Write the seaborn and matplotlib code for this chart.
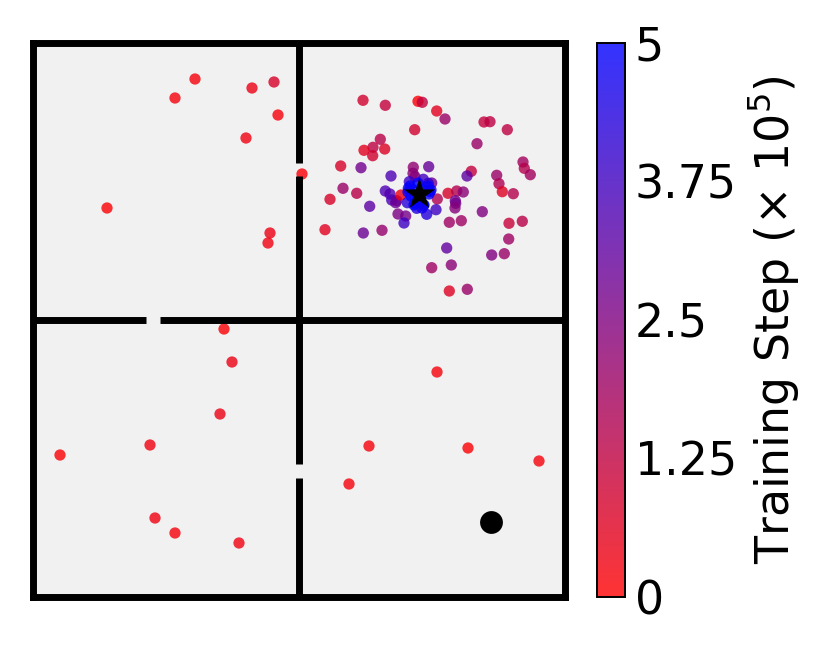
import numpy as np
import pandas as pd
import seaborn as sns
import matplotlib.pyplot as plt
from matplotlib.colors import LinearSegmentedColormap, Normalize
from matplotlib.cm import ScalarMappable

# positions, in picture pixels
room_x = [195, 175, 252, 274, 278, 246, 107, 270, 268,
          224, 232, 220, 150, 60, 155, 175, 239,
          437, 369, 468, 539, 349]
room_y = [79, 98, 88, 82, 115, 138, 208, 233, 243,
          329, 362, 414, 445, 455, 518, 533, 543,
          372, 446, 448, 461, 484]
room_step = [0.2, 0.2, 0.4, 0.8, 0.2, 0.3, 0.1, 0.4, 0.3,
             0.1, 0.4, 0.4, 0.3, 0.1, 0.3, 0.2, 0.3,
             0.2, 0.2, 0.1, 0.2, 0.2]

far_x = [363, 385.3, 418, 422.3, 436.7, 445, 414.7, 484, 490, 507.3, 477,
         380.3, 373, 364, 384.7, 372.7, 340.7, 361, 413.3, 428.7, 413, 415,
         391, 471.3, 467, 496.7, 499, 502.3, 513.3, 523, 524.3, 530.3, 343,
         356.7, 330, 302, 325, 369.7, 363.3, 382, 448, 456.7, 463.3, 455.3,
         455.7, 455, 437.3, 482.3, 449.3, 461.3, 509, 522.3, 508.7, 504.3,
         491.7, 446.7, 451.3, 431.7, 449.3, 467.3]
far_y = [100.3, 105.3, 101.3, 102.3, 111, 119, 129.7, 122, 121.7, 129.7, 143.7,
         139.3, 147.3, 150.3, 149, 155.7, 166, 167.7, 167.3, 166.7, 173.3, 176.7,
         176, 171.3, 176, 175.3, 183.7, 191.7, 193.7, 162, 168.3, 174.7, 188.3,
         193.3, 199.3, 174, 229.7, 206.3, 233, 230.3, 193.3, 191, 192, 200.7,
         203.3, 208, 199, 211.7, 222.3, 220.7, 223.3, 221.3, 239, 253.7,
         255, 248, 265, 267.7, 291, 289.3]
far_step = [0.9, 1.2, 0.1, 1.2, 0.6, 2.0, 0.9, 1.2, 1.3, 1.3, 2.0,
            1.4, 1.3, 0.6, 0.7, 0.9, 0.8, 2.8, 2.2, 3.0, 2.3, 2.4,
            3.5, 1.2, 3.2, 2.0, 1.6, 0.7, 1.5, 1.8, 1.5, 1.8, 2.0,
            1.4, 0.8, 0.1, 0.6, 3.2, 2.9, 2.1, 0.8, 1.5, 2.3, 2.8,
            2.7, 2.4, 1.6, 2.5, 1.9, 1.9, 1.1, 1.4, 1.9, 2.0,
            2.5, 3.1, 2.3, 1.9, 0.7, 2.0]

near_x = [385.3, 390, 391.7, 396.7, 395.7, 401, 398, 405.7, 404, 407.3, 416.7,
          423.3, 426.7, 436, 409.3, 408.3, 423.3, 431.7, 428.3, 430, 415,
          418.3, 413.3, 423.3, 415, 420,
          410, 428, 411, 429, 414, 424, 408, 431, 418, 422]
near_y = [191, 194, 200, 200.7, 202.7, 195, 214, 216, 223, 202.7, 208.3,
          205, 214.3, 209.7, 181.7, 188.3, 179.3, 183, 183.3, 191.7, 196.7,
          194, 190, 190, 203.3, 201.7,
          186, 186, 196, 194, 205, 205, 192, 190, 183, 208]
near_step = [3.5, 3.4, 3.6, 3.0, 2.9, 0.3, 2.6, 2.7, 3.8, 4.2, 4.3,
             4.2, 4.3, 3.8, 3.9, 4.8, 3.7, 2.8, 4.0, 4.7, 5.0,
             5.0, 5.0, 5.0, 4.7, 4.6,
             4.9, 4.9, 5.0, 4.9, 5.0, 5.0, 4.8, 4.8, 5.0, 4.7]

goal_x, goal_y = [419], [194]
start_x, start_y = [491], [522]

wall_v = [(43, 163), (176, 464), (478, 597)]
wall_h = [(33, 146), (160, 565)]
cbar_ticks = [0, 1.25, 2.5, 3.75, 5]
cbar_labels = ['0', '1.25', '2.5', '3.75', '5']

df = pd.DataFrame({'x': room_x + far_x + near_x,
                   'y': room_y + far_y + near_y,
                   'step': room_step + far_step + near_step})

cmap = LinearSegmentedColormap.from_list('rb', ['#ff0000', '#0000ff'])
norm = Normalize(0, 5)

fig = plt.figure(figsize=(8.3, 6.64), dpi=100)
ax = fig.add_axes([33 / 830, 67 / 664, 532 / 830, 554 / 664])
ax.set_facecolor('#f1f1f1')

sns.scatterplot(data=df, x='x', y='y', hue='step', palette=cmap, hue_norm=norm,
                s=66, alpha=0.8, linewidth=0, legend=False, ax=ax, zorder=2)
sns.scatterplot(x=start_x, y=start_y, color='k', s=270, linewidth=0, ax=ax, zorder=3)
sns.scatterplot(x=goal_x, y=goal_y, color='k', marker='*', s=560, linewidth=0, ax=ax, zorder=3)

for a, b in wall_v:
    ax.plot([298.5, 298.5], [a, b], color='k', lw=5, solid_capstyle='butt', zorder=4)
for a, b in wall_h:
    ax.plot([a, b], [320, 320], color='k', lw=5, solid_capstyle='butt', zorder=4)

ax.set_xlim(33, 565)
ax.set_ylim(597, 43)
ax.set_xticks([])
ax.set_yticks([])
ax.set_xlabel('')
ax.set_ylabel('')
for s in ax.spines.values():
    s.set_linewidth(5)

cax = fig.add_axes([597 / 830, 67 / 664, 28 / 830, 554 / 664])
sm = ScalarMappable(norm=norm, cmap=cmap)
cb = fig.colorbar(sm, cax=cax, alpha=0.8)
cb.set_ticks(cbar_ticks)
cb.set_ticklabels(cbar_labels)
cb.ax.tick_params(labelsize=33, length=0, pad=7)
cb.outline.set_linewidth(1.4)
cb.set_label(r'Training Step ($\times$ 10$^5$)', fontsize=33, labelpad=7)

fig.savefig('out.png', dpi=100)
